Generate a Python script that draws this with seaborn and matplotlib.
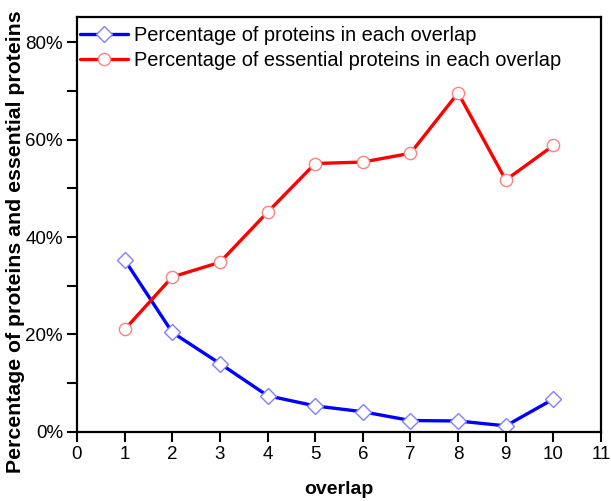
import matplotlib
matplotlib.use("Agg")
import matplotlib.pyplot as plt
import seaborn as sns
import pandas as pd
from matplotlib.ticker import MultipleLocator, FuncFormatter

overlap = [1, 2, 3, 4, 5, 6, 7, 8, 9, 10]
pct_proteins = [35.3, 20.4, 14.0, 7.4, 5.3, 4.1, 2.3, 2.2, 1.2, 6.7]
pct_essential = [21.0, 31.8, 34.8, 45.1, 55.1, 55.4, 57.2, 69.6, 51.7, 58.8]
series_names = ["Percentage of proteins in each overlap",
                "Percentage of essential proteins in each overlap"]

df = pd.DataFrame({
    "overlap": overlap * 2,
    "value": [v / 100 for v in pct_proteins] + [v / 100 for v in pct_essential],
    "series": [series_names[0]] * len(overlap) + [series_names[1]] * len(overlap),
})

sns.set_style("white")
plt.rcParams["font.family"] = ["Liberation Sans", "DejaVu Sans"]
plt.rcParams["text.color"] = "black"
plt.rcParams["axes.labelcolor"] = "black"
plt.rcParams["xtick.color"] = "black"
plt.rcParams["ytick.color"] = "black"

W, H = 611, 501
fig = plt.figure(figsize=(W / 100, H / 100), dpi=100)
ax = fig.add_axes([77 / W, 1 - 431.7 / H, (601 - 77) / W, (431.7 - 17) / H])

colors = ["#0000FF", "#FF0000"]
edges = ["#8080FF", "#FF8080"]
markers = ["D", "o"]
msizes = [7.8, 8.8]
for i, name in enumerate(series_names):
    sub = df[df["series"] == name]
    sns.lineplot(data=sub, x="overlap", y="value", ax=ax, color=colors[i],
                 linewidth=2.4, marker=markers[i], markersize=msizes[i],
                 markerfacecolor="white", markeredgecolor=edges[i],
                 markeredgewidth=1.0, label=name)

ax.set_xlim(0, 11)
ax.set_ylim(0, 0.852)
ax.xaxis.set_major_locator(MultipleLocator(1))
ax.yaxis.set_major_locator(MultipleLocator(0.2))
ax.yaxis.set_minor_locator(MultipleLocator(0.1))
ax.yaxis.set_major_formatter(FuncFormatter(lambda v, p: f"{v*100:.0f}%"))
ax.tick_params(axis="both", which="both", direction="out", length=7, width=1.5,
               labelsize=13.5, color="black", labelcolor="black",
               left=True, bottom=True, pad=3)
ax.tick_params(axis="x", which="minor", bottom=False)
for s in ax.spines.values():
    s.set_linewidth(1.6)
    s.set_color("black")

ax.set_xlabel("overlap", fontsize=14, fontweight="bold", labelpad=13, color="black")
ax.set_ylabel("")
fig.text(16 / W, 1 - 242 / H, "Percentage of proteins and essential proteins",
         rotation=90, ha="center", va="center", fontsize=15.3, fontweight="bold",
         color="black")

leg = ax.legend(loc="upper left", bbox_to_anchor=(3 / 524, 1 - 9.0 / 414.7),
                frameon=False, fontsize=14.4, handlelength=2.4,
                handletextpad=0.3, borderaxespad=0.0, labelspacing=0.3,
                borderpad=0.0)
for t in leg.get_texts():
    t.set_color("black")

fig.savefig("out.png", dpi=100)
